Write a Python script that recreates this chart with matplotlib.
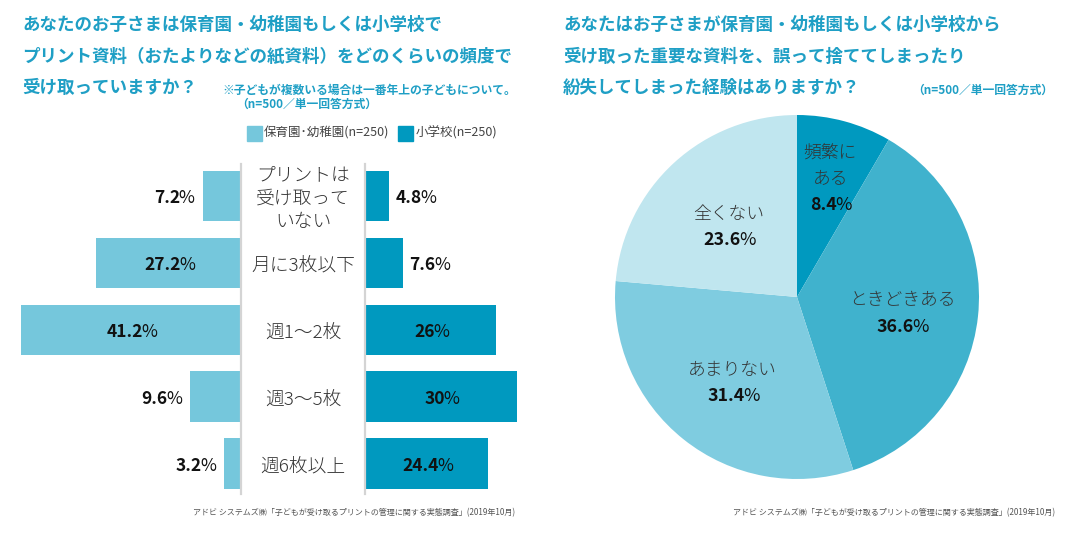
import numpy as np
import matplotlib.pyplot as plt
from matplotlib.transforms import blended_transform_factory

plt.rcParams['font.family'] = ['Noto Sans CJK JP', 'DejaVu Sans']

# data: left chart
categories = ['プリントは\n受け取って\nいない', '月に3枚以下', '週1〜2枚', '週3〜5枚', '週6枚以上']
hoikuen = [7.2, 27.2, 41.2, 9.6, 3.2]
shogakko = [4.8, 7.6, 26, 30, 24.4]
legend_labels = ['保育園･幼稚園(n=250)', '小学校(n=250)']

# data: right chart
pie_labels = ['頻繁に\nある', 'ときどきある', 'あまりない', '全くない']
pie_values = [8.4, 36.6, 31.4, 23.6]

title_l = ['あなたのお子さまは保育園・幼稚園もしくは小学校で',
           'プリント資料（おたよりなどの紙資料）をどのくらいの頻度で',
           '受け取っていますか？']
title_r = ['あなたはお子さまが保育園・幼稚園もしくは小学校から',
           '受け取った重要な資料を、誤って捨ててしまったり',
           '紛失してしまった経験はありますか？']
source = 'アドビ システムズ㈱「子どもが受け取るプリントの管理に関する実態調査」(2019年10月)'

TEAL = '#1f9fc5'
LIGHT = '#75c7dc'
DARK = '#0099bf'
pie_colors = ['#0099bf', '#40b2cd', '#7fcce0', '#c0e6ef']

W, H = 1080, 539
fig = plt.figure(figsize=(W / 100, H / 100), dpi=100)


def fx(x):
    return x / W


def fy(y):
    return 1 - y / H


def pct_label(ax, x, y, v, ha, size=12.5):
    # number in bold, "%" in regular weight right after it
    num = f'{v:g}'
    kw = dict(fontsize=size, color='#111111')
    if ha == 'right':
        p = ax.annotate('%', xy=(x, y), xytext=(0, -2), textcoords='offset pixels',
                        ha='right', va='center', **kw)
        ax.annotate(num, xy=(0, 0), xycoords=p, xytext=(1.5, 0), textcoords='offset pixels',
                    ha='right', va='bottom', fontweight='bold', **kw)
        return
    dx = -size * 0.5 if ha == 'center' else 0
    t = ax.annotate(num, xy=(x, y), xytext=(dx, -2), textcoords='offset pixels',
                    ha=ha, va='center', fontweight='bold', **kw)
    ax.annotate('%', xy=(1, 0), xycoords=t, xytext=(-1.5, 0), textcoords='offset pixels',
                ha='left', va='bottom', **kw)


# titles
for i, line in enumerate(title_l):
    fig.text(fx(22), fy(25 + i * 31.5), line, fontsize=12.6, fontweight='bold',
             color=TEAL, va='center', ha='left')
for i, line in enumerate(title_r):
    fig.text(fx(563), fy(25 + i * 31.5), line, fontsize=12.6, fontweight='bold',
             color=TEAL, va='center', ha='left')
fig.text(fx(222), fy(90), '※子どもが複数いる場合は一番年上の子どもについて。',
         fontsize=8.5, fontweight='bold', color=TEAL, va='center')
fig.text(fx(236), fy(104), '（n=500／単一回答方式）',
         fontsize=8.5, fontweight='bold', color=TEAL, va='center')
fig.text(fx(912), fy(90), '（n=500／単一回答方式）',
         fontsize=8.5, fontweight='bold', color=TEAL, va='center')

# legend
fig.patches.append(plt.Rectangle((fx(247), fy(141)), 15 / W, 15 / H,
                                 transform=fig.transFigure, color=LIGHT))
fig.text(fx(264), fy(133), legend_labels[0], fontsize=9, color='#444444', va='center')
fig.patches.append(plt.Rectangle((fx(398), fy(141)), 15 / W, 15 / H,
                                 transform=fig.transFigure, color=DARK))
fig.text(fx(416), fy(133), legend_labels[1], fontsize=9, color='#444444', va='center')

# bar axes
top, bottom = 164, 494
pitch = 66.9
n = len(categories)
ylim = (n - 1 + 30.5 / pitch, -32 / pitch)

ax_l = fig.add_axes([0, fy(bottom), fx(241), (bottom - top) / H])
ax_r = fig.add_axes([fx(365), fy(bottom), fx(W / 2 - 365), (bottom - top) / H])
ax_l.set_xlim(241 / 5.33, 0)
ax_r.set_xlim(0, (W / 2 - 365) / 5.05)
y = np.arange(n)
for ax in (ax_l, ax_r):
    ax.set_ylim(*ylim)
    ax.axis('off')
    ax.axvline(0, color='#d4d4d4', lw=1.6, clip_on=False)

ax_l.barh(y, hoikuen, height=0.755, color=LIGHT)
ax_r.barh(y, shogakko, height=0.755, color=DARK)

for i, v in enumerate(hoikuen):
    if v > 15:
        pct_label(ax_l, v / 2, i, v, 'center')
    else:
        pct_label(ax_l, v + 1.5, i, v, 'right')
for i, v in enumerate(shogakko):
    if v > 15:
        pct_label(ax_r, v / 2, i, v, 'center')
    else:
        pct_label(ax_r, v + 1.2, i, v, 'left')

tr = blended_transform_factory(fig.transFigure, ax_l.transData)
for i, c in enumerate(categories):
    fig.text(fx(303), i, c, transform=tr, ha='center', va='center',
             fontsize=13.5, fontweight='light', color='#333333', linespacing=1.38)
for t in fig.texts[-n:]:
    t.set_y(t.get_position()[1] + 3 / pitch)

fig.text(fx(515), fy(513), source, ha='right', va='center', fontsize=5.8, color='#555555')

# pie
cx, cy, r = 797, 297, 182
ax_p = fig.add_axes([fx(cx - r), fy(cy + r), 2 * r / W, 2 * r / H])
wedges, _ = ax_p.pie(pie_values, colors=pie_colors, startangle=90, counterclock=False,
                     radius=1, wedgeprops=dict(linewidth=0))
ax_p.set_xlim(-1, 1)
ax_p.set_ylim(-1, 1)
ax_p.set_aspect('equal')
ax_p.axis('off')

label_r = [0.70, 0.58, 0.57, 0.56]
line_pitch = 24.5 / r
for w, lab, v, lr in zip(wedges, pie_labels, pie_values, label_r):
    ang = np.deg2rad((w.theta1 + w.theta2) / 2)
    x, yy = lr * np.cos(ang), lr * np.sin(ang) - 4 / r
    lines = lab.split('\n') + [None]
    for k, line in enumerate(lines):
        ly = yy - (k - (len(lines) - 1) / 2) * line_pitch
        if line is None:
            pct_label(ax_p, x, ly, v, 'center', size=12.8)
        else:
            ax_p.text(x, ly, line, ha='center', va='center', fontsize=12.8,
                      fontweight='light', color='#333333')

fig.text(fx(1055), fy(513), source, ha='right', va='center', fontsize=5.8, color='#555555')

fig.savefig('out.png', dpi=100, facecolor='white')
